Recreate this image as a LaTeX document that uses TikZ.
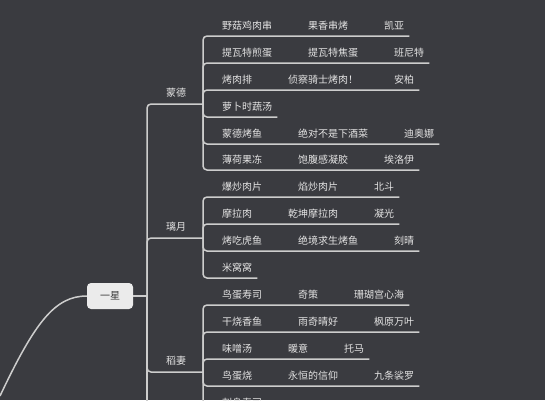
\documentclass[tikz,border=0pt]{standalone}
\usepackage{fontspec}
\usepackage{xcolor}
\usepackage{tikz}
\usetikzlibrary{positioning,calc}
\newfontfamily\cjk{Noto Sans CJK SC}
\definecolor{mapBg}{HTML}{3A3B40}
\definecolor{mapLine}{HTML}{CDCDCD}
\definecolor{mapText}{HTML}{E4E4E4}
\definecolor{mapRoot}{HTML}{EBEBEB}
\definecolor{mapRootText}{HTML}{3A3A3A}
\newcommand{\dishgap}{\hspace{3.6em}}

\begin{document}
\begin{tikzpicture}[
  x=1pt,y=-1pt,
  font=\cjk\fontsize{10}{12}\selectfont,
  root/.style={fill=mapRoot,text=mapRootText,rounded corners=4pt,
               minimum width=46pt,minimum height=26pt,inner sep=0pt},
  grp/.style={text=mapText,inner sep=0pt},
  dish/.style={text=mapText,anchor=base west,inner sep=0pt},
  link/.style={draw=mapLine,line width=1.5pt,rounded corners=4pt}
]
% Background
\fill[mapBg] (0,0) rectangle (545,400);
\useasboundingbox (0,0) rectangle (545,400);
\clip (0,0) rectangle (545,400);

% Root and spine
\node[root] (yixing) at (110,296) {一星};
\coordinate (hub)     at (147,296);
\coordinate (parent)  at (0,396);
\coordinate (nextgrp) at (147,420);

% Groups
\node[grp] (mengde) at (176,93)  {蒙德};
\node[grp] (liyue)  at (176,227) {璃月};
\node[grp] (daoqi)  at (176,361) {稻妻};
\coordinate (mdj) at (203,104);
\coordinate (lyj) at (203,238);
\coordinate (dqj) at (203,372);

% Mondstadt dishes
\node[dish] (md1) at (222,29)  {野菇鸡肉串\dishgap 果香串烤\dishgap 凯亚};
\node[dish] (md2) at (222,56)  {提瓦特煎蛋\dishgap 提瓦特焦蛋\dishgap 班尼特};
\node[dish] (md3) at (222,83)  {烤肉排\dishgap 侦察骑士烤肉！\dishgap 安柏};
\node[dish] (md4) at (222,110) {萝卜时蔬汤};
\node[dish] (md5) at (222,137) {蒙德烤鱼\dishgap 绝对不是下酒菜\dishgap 迪奥娜};
\node[dish] (md6) at (222,163) {薄荷果冻\dishgap 饱腹感凝胶\dishgap 埃洛伊};

% Liyue dishes
\node[dish] (ly1) at (222,190) {爆炒肉片\dishgap 焰炒肉片\dishgap 北斗};
\node[dish] (ly2) at (222,217) {摩拉肉\dishgap 乾坤摩拉肉\dishgap 凝光};
\node[dish] (ly3) at (222,244) {烤吃虎鱼\dishgap 绝境求生烤鱼\dishgap 刻晴};
\node[dish] (ly4) at (222,271) {米窝窝};

% Inazuma dishes
\node[dish] (dq1) at (222,298) {鸟蛋寿司\dishgap 奇策\dishgap 珊瑚宫心海};
\node[dish] (dq2) at (222,325) {干烧香鱼\dishgap 雨奇晴好\dishgap 枫原万叶};
\node[dish] (dq3) at (222,352) {味噌汤\dishgap 暖意\dishgap 托马};
\node[dish] (dq4) at (222,379) {鸟蛋烧\dishgap 永恒的信仰\dishgap 九条裟罗};
\node[dish] (dq5) at (222,406) {刺身寿司};

% Main branches
\draw[link] (parent) .. controls (35,322) and (55,296) .. (yixing.west);
\draw[link] (yixing.east) -- (hub);
\draw[link] (hub) |- (mdj);
\draw[link] (hub) |- (lyj);
\draw[link] (hub) |- (dqj);
\draw[link] (hub) -- (nextgrp);

% Leaf underlines
\draw[link] (mdj) |- ([xshift=5pt,yshift=-7pt]md1.base east);
\draw[link] (mdj) |- ([xshift=5pt,yshift=-7pt]md2.base east);
\draw[link] (mdj) |- ([xshift=5pt,yshift=-7pt]md3.base east);
\draw[link] (mdj) |- ([xshift=5pt,yshift=-7pt]md4.base east);
\draw[link] (mdj) |- ([xshift=5pt,yshift=-7pt]md5.base east);
\draw[link] (mdj) |- ([xshift=5pt,yshift=-7pt]md6.base east);
\draw[link] (lyj) |- ([xshift=5pt,yshift=-7pt]ly1.base east);
\draw[link] (lyj) |- ([xshift=5pt,yshift=-7pt]ly2.base east);
\draw[link] (lyj) |- ([xshift=5pt,yshift=-7pt]ly3.base east);
\draw[link] (lyj) |- ([xshift=5pt,yshift=-7pt]ly4.base east);
\draw[link] (dqj) |- ([xshift=5pt,yshift=-7pt]dq1.base east);
\draw[link] (dqj) |- ([xshift=5pt,yshift=-7pt]dq2.base east);
\draw[link] (dqj) |- ([xshift=5pt,yshift=-7pt]dq3.base east);
\draw[link] (dqj) |- ([xshift=5pt,yshift=-7pt]dq4.base east);
\draw[link] (dqj) |- ([xshift=5pt,yshift=-7pt]dq5.base east);
\end{tikzpicture}
\end{document}
